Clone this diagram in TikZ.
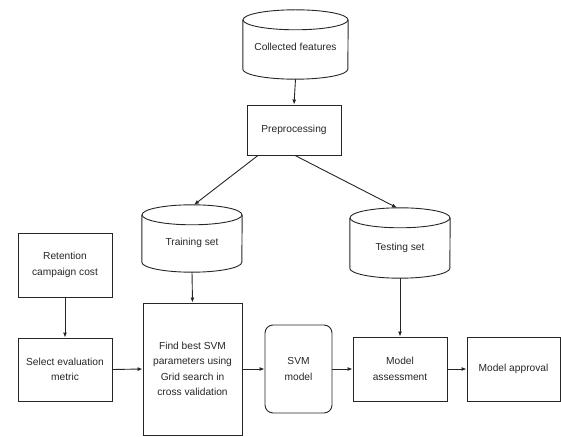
\documentclass[tikz,border=0pt]{standalone}
\usepackage{fontspec}
\setmainfont{Liberation Sans}
\usetikzlibrary{calc,arrows.meta}
\definecolor{ink}{HTML}{262626}
\newcommand\drawcyl[2]{%
  \draw[line width=0.9pt,ink] ($(#1.north west)+(0,-10)$) -- ($(#1.south west)+(0,10)$)
    arc[start angle=180,end angle=360,x radius=#2,y radius=10]
    -- ($(#1.north east)+(0,-10)$);
  \draw[line width=0.9pt,ink] ($(#1.north)+(0,-10)$) ellipse[x radius=#2,y radius=10];}
\begin{document}
\begin{tikzpicture}[x=1pt,y=1pt,
  every node/.style={font=\fontsize{10.2}{15.5}\selectfont, text=ink, align=center, inner sep=0pt},
  box/.style={draw=ink, line width=0.9pt, rectangle},
  cyl/.style={rectangle, text depth=2pt},
  arr/.style={-{Latex[length=5pt,width=4pt]}, line width=0.9pt, draw=ink}]
\useasboundingbox (0,0) rectangle (561,436);
\node[cyl, minimum width=105, minimum height=69, text height=14.5pt] (cf) at (295.5,391.5) {Collected features};
\drawcyl{cf}{52.5}
\node[box, minimum width=94, minimum height=50] (pre) at (294,306) {Preprocessing};
\node[cyl, minimum width=100, minimum height=67, text height=16pt] (train) at (192,197.5) {Training set};
\drawcyl{train}{50}
\node[cyl, minimum width=100, minimum height=70, text height=17pt] (test) at (400,193) {Testing set};
\drawcyl{test}{50}
\node[box, minimum width=94, minimum height=64] (ret) at (65,171) {Retention\\campaign cost};
\node[box, minimum width=94, minimum height=63] (sel) at (65,66.5) {Select evaluation\\metric};
\node[box, minimum width=99, minimum height=132] (find) at (192.5,67) {Find best SVM\\parameters using\\Grid search in\\cross validation};
\node[box, rounded corners=8pt, minimum width=67, minimum height=88] (svm) at (298.5,67) {SVM\\model};
\node[box, minimum width=94, minimum height=64] (ass) at (400,67) {Model\\assessment};
\node[box, minimum width=93, minimum height=64] (app) at (513.5,67) {Model approval};
\draw[arr] (cf.south) -- (pre.north);
\draw[arr] ([xshift=-36pt]pre.south) -- ([xshift=2pt]train.north);
\draw[arr] ([xshift=1pt]pre.south) -- ([xshift=-3pt]test.north);
\draw[arr] (train.south) -- (find.north);
\draw[arr] (test.south) -- (ass.north);
\draw[arr] (ret.south) -- (sel.north);
\draw[arr] (sel.east) -- (find.west);
\draw[arr] (find.east) -- (svm.west);
\draw[arr] (svm.east) -- (ass.west);
\draw[arr] (ass.east) -- (app.west);
\end{tikzpicture}
\end{document}
